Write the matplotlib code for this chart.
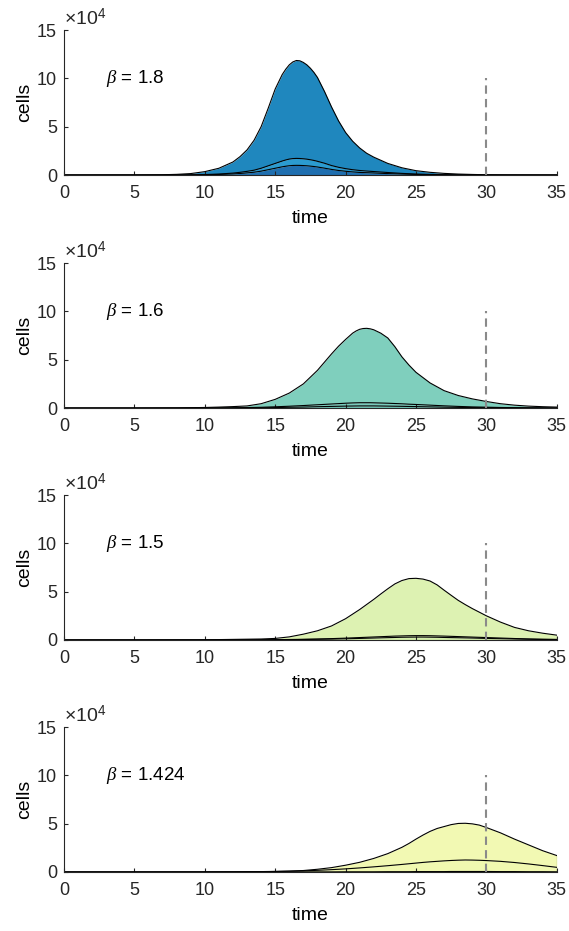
import numpy as np
import matplotlib
matplotlib.use("Agg")
import matplotlib.pyplot as plt

plt.rcParams['font.family'] = ['Liberation Sans', 'DejaVu Sans']
plt.rcParams['mathtext.fontset'] = 'custom'
plt.rcParams['mathtext.rm'] = 'Liberation Sans'
plt.rcParams['mathtext.it'] = 'Liberation Serif:italic'

# ---------------- data (cells in units of 1e4) ----------------
betas = ["1.8", "1.6", "1.5", "1.424"]

t1 = [0, 5, 7, 8, 9, 10, 11, 12, 12.5, 13, 13.5, 14, 14.5, 15, 15.5, 15.75, 16, 16.25, 16.5, 16.75,
      17, 17.25, 17.5, 17.75, 18, 18.5, 19, 19.5, 20, 20.5, 21, 21.5, 22, 23, 24, 25, 26, 27, 28, 29, 30, 32, 35]
total1 = [0, 0.01, 0.03, 0.07, 0.15, 0.35, 0.7, 1.35, 1.9, 2.6, 3.6, 5.0, 6.9, 8.9, 10.4, 10.95, 11.4, 11.7, 11.85, 11.82,
          11.65, 11.4, 11.05, 10.62, 10.1, 8.65, 7.05, 5.6, 4.4, 3.5, 2.8, 2.25, 1.85, 1.2, 0.75, 0.45, 0.28, 0.17, 0.1, 0.06, 0.03, 0.01, 0]
mid1 = [0, 0, 0, 0.01, 0.02, 0.05, 0.1, 0.2, 0.28, 0.38, 0.5, 0.7, 0.95, 1.2, 1.45, 1.56, 1.65, 1.7, 1.72, 1.71,
        1.68, 1.64, 1.58, 1.51, 1.42, 1.22, 0.98, 0.8, 0.66, 0.55, 0.47, 0.41, 0.36, 0.26, 0.17, 0.1, 0.06, 0.03, 0.02, 0.01, 0, 0, 0]
low1 = [0, 0, 0, 0.005, 0.01, 0.03, 0.06, 0.11, 0.16, 0.22, 0.29, 0.4, 0.55, 0.7, 0.85, 0.91, 0.96, 0.99, 1.0, 0.995,
        0.98, 0.955, 0.92, 0.88, 0.83, 0.71, 0.58, 0.47, 0.39, 0.32, 0.27, 0.24, 0.21, 0.15, 0.1, 0.06, 0.035, 0.02, 0.01, 0.005, 0, 0, 0]

t2 = [0, 5, 8, 10, 11, 12, 13, 14, 15, 16, 17, 18, 18.5, 19, 19.5, 20, 20.5, 20.75, 21, 21.25,
      21.5, 21.75, 22, 22.5, 23, 23.5, 24, 24.5, 25, 26, 27, 28, 29, 30, 31, 32, 33, 34, 35]
total2 = [0, 0, 0.02, 0.06, 0.1, 0.15, 0.22, 0.45, 0.9, 1.55, 2.5, 3.9, 4.75, 5.6, 6.4, 7.1, 7.75, 7.98, 8.15, 8.23,
          8.25, 8.2, 8.1, 7.75, 7.25, 6.35, 5.3, 4.45, 3.7, 2.6, 1.8, 1.3, 0.95, 0.68, 0.45, 0.3, 0.2, 0.14, 0.1]
mid2 = [0, 0, 0, 0.01, 0.02, 0.03, 0.05, 0.08, 0.13, 0.19, 0.26, 0.34, 0.38, 0.42, 0.46, 0.5, 0.53, 0.54, 0.55, 0.55,
        0.55, 0.55, 0.54, 0.52, 0.5, 0.47, 0.44, 0.4, 0.37, 0.3, 0.23, 0.17, 0.12, 0.09, 0.06, 0.04, 0.03, 0.02, 0.01]
low2 = [0, 0, 0, 0, 0.01, 0.01, 0.02, 0.03, 0.05, 0.08, 0.1, 0.14, 0.155, 0.17, 0.185, 0.2, 0.21, 0.215, 0.22, 0.22,
        0.22, 0.22, 0.22, 0.21, 0.2, 0.19, 0.18, 0.165, 0.15, 0.12, 0.09, 0.07, 0.05, 0.04, 0.03, 0.02, 0.01, 0.01, 0]

t3 = [0, 5, 10, 12, 14, 15, 16, 17, 18, 19, 20, 21, 22, 22.5, 23, 23.5, 24, 24.5, 25, 25.5,
      26, 26.5, 27, 27.5, 28, 28.5, 29, 30, 31, 32, 33, 34, 35]
total3 = [0, 0, 0.02, 0.06, 0.1, 0.16, 0.32, 0.6, 0.95, 1.45, 2.2, 3.15, 4.2, 4.76, 5.3, 5.8, 6.15, 6.35, 6.38, 6.3,
          6.1, 5.7, 5.15, 4.62, 4.1, 3.66, 3.25, 2.5, 1.85, 1.3, 0.95, 0.7, 0.5]
mid3 = [0, 0, 0, 0.01, 0.02, 0.03, 0.05, 0.07, 0.1, 0.14, 0.19, 0.25, 0.31, 0.34, 0.37, 0.4, 0.42, 0.44, 0.45, 0.45,
        0.44, 0.42, 0.4, 0.375, 0.35, 0.325, 0.3, 0.25, 0.2, 0.15, 0.11, 0.08, 0.06]
low3 = [0, 0, 0, 0, 0.01, 0.02, 0.03, 0.05, 0.07, 0.09, 0.12, 0.16, 0.2, 0.22, 0.24, 0.26, 0.28, 0.29, 0.3, 0.3,
        0.29, 0.28, 0.26, 0.245, 0.23, 0.215, 0.2, 0.16, 0.13, 0.1, 0.07, 0.05, 0.04]

t4 = [0, 5, 10, 12, 14, 15, 16, 17, 18, 19, 20, 21, 22, 23, 24, 24.5, 25, 25.5, 26, 26.5,
      27, 27.5, 28, 28.5, 29, 29.5, 30, 31, 32, 33, 34, 35]
total4 = [0, 0, 0.01, 0.02, 0.04, 0.06, 0.09, 0.15, 0.28, 0.45, 0.7, 1.0, 1.4, 1.9, 2.55, 2.95, 3.4, 3.82, 4.2, 4.5,
          4.7, 4.9, 5.02, 5.04, 4.98, 4.85, 4.6, 4.05, 3.4, 2.8, 2.2, 1.7]
mid4 = [0, 0, 0, 0.01, 0.03, 0.05, 0.08, 0.12, 0.17, 0.24, 0.32, 0.42, 0.53, 0.65, 0.78, 0.85, 0.92, 0.99, 1.05, 1.1,
        1.15, 1.19, 1.22, 1.24, 1.23, 1.21, 1.18, 1.1, 0.98, 0.83, 0.66, 0.48]
low4 = [0, 0, 0, 0, 0, 0, 0, 0.01, 0.01, 0.01, 0.02, 0.02, 0.02, 0.03, 0.03, 0.03, 0.04, 0.04, 0.04, 0.04,
        0.04, 0.05, 0.05, 0.05, 0.05, 0.05, 0.05, 0.04, 0.04, 0.03, 0.03, 0.02]

cutoff_time = 30
cutoff_height = 10

xticks = [0, 5, 10, 15, 20, 25, 30, 35]
yticks = [0, 5, 10, 15]

panels = [
    (t1, low1, mid1, total1, ['#1f6fb0', '#2b9bd0', '#1f87be']),
    (t2, low2, mid2, total2, ['#6fc4b4', '#78cabb', '#7fcfbd']),
    (t3, low3, mid3, total3, ['#d3eeaa', '#d8f0ae', '#ddf2b2']),
    (t4, low4, mid4, total4, ['#eef7ad', '#f0f8b0', '#f2f9b3']),
]

# ---------------- figure ----------------
fig = plt.figure(figsize=(5.69, 9.31), dpi=100)
bottoms = [0.812, 0.5617, 0.3126, 0.0634]
axcol = '#262626'

for (t, low, mid, tot, cols), beta, b in zip(panels, betas, bottoms):
    ax = fig.add_axes([0.1125, b, 0.866, 0.1557])
    t = np.array(t)
    low = np.array(low); mid = np.array(mid); tot = np.array(tot)
    ax.fill_between(t, 0, low, color=cols[0], lw=0)
    ax.fill_between(t, low, mid, color=cols[1], lw=0)
    ax.fill_between(t, mid, tot, color=cols[2], lw=0)
    ax.plot(t, low, color='black', lw=0.8)
    ax.plot(t, mid, color='black', lw=0.8)
    ax.plot(t, tot, color='black', lw=0.8)
    ax.plot([t[-1], t[-1]], [0, tot[-1]], color='black', lw=0.8)
    ax.plot([cutoff_time, cutoff_time], [0, cutoff_height], color='#8a8a8a',
            ls=(0, (4, 2.5)), lw=1.5)
    ax.set_xlim(0, 35)
    ax.set_ylim(0, 15)
    ax.set_xticks(xticks)
    ax.set_yticks(yticks)
    for s in ['top', 'right']:
        ax.spines[s].set_visible(False)
    for s in ['left', 'bottom']:
        ax.spines[s].set_color(axcol)
        ax.spines[s].set_linewidth(0.8)
    ax.tick_params(direction='in', length=3, width=0.8, colors=axcol,
                   labelsize=13)
    ax.tick_params(axis='x', pad=7)
    ax.tick_params(axis='y', pad=5)
    ax.set_xlabel('time', fontsize=14, color='black', labelpad=6)
    ax.set_ylabel('cells', fontsize=14, color='black', labelpad=3)
    ax.text(3, 10, r'$\it{\beta}$ = ' + beta, fontsize=13.5, va='center', ha='left')
    ax.text(0.0, 1.005, r'$\times10^{4}$', transform=ax.transAxes, fontsize=14,
            va='bottom', ha='left', color=axcol)

fig.savefig('out.png', dpi=100)
